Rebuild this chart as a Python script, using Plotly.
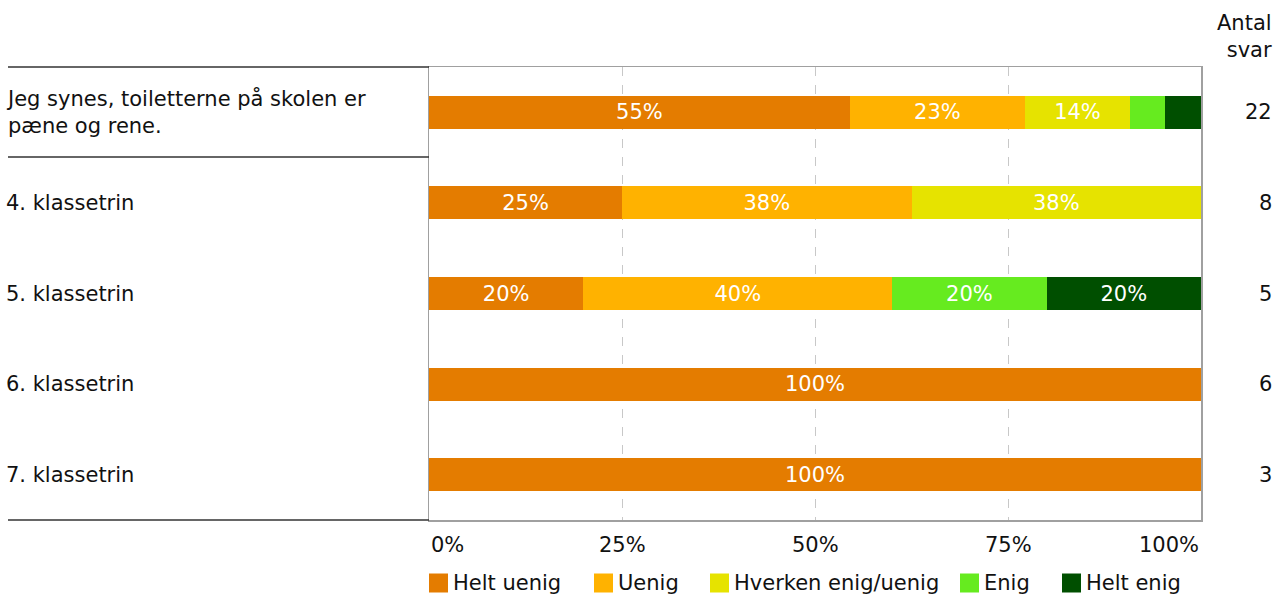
import plotly.graph_objects as go

categories = ["Jeg synes, toiletterne på skolen er<br>pæne og rene.", "4. klassetrin", "5. klassetrin", "6. klassetrin", "7. klassetrin"]
counts = [22, 8, 5, 6, 3]
series_names = ["Helt uenig", "Uenig", "Hverken enig/uenig", "Enig", "Helt enig"]
helt_uenig = [54.5, 25, 20, 100, 100]
uenig = [22.7, 37.5, 40, 0, 0]
hverken = [13.6, 37.5, 0, 0, 0]
enig = [4.6, 0, 20, 0, 0]
helt_enig = [4.6, 0, 20, 0, 0]
tick_vals = [0, 25, 50, 75, 100]
tick_text = ["0%", "25%", "50%", "75%", "100%"]
colors = ["#E47C00", "#FFB200", "#E6E300", "#66EB1F", "#004F00"]

W, H = 1276, 597
X0, X1 = 429, 1201
Y0, Y1 = 67, 520
FONT = "DejaVu Sans"
FS = 21
# legend swatch left edges (px), layout only
LEG_X = [429, 594, 710, 960, 1062]
LEG_Y = 583
SW = 19


def px_x(p):
    return p / W


def px_y(p):
    return 1 - p / H


fig = go.Figure()
for name, vals, col in zip(series_names, [helt_uenig, uenig, hverken, enig, helt_enig], colors):
    txt = [f"{int(v + 0.5)}%" if v >= 8 else "" for v in vals]
    fig.add_trace(go.Bar(
        y=list(range(len(categories))), x=vals, name=name, orientation="h",
        marker=dict(color=col, line=dict(width=0)),
        text=txt, textposition="inside", insidetextanchor="middle",
        textfont=dict(color="white", size=FS, family=FONT),
        hoverinfo="skip", width=0.365, showlegend=False,
    ))

fig.update_layout(
    barmode="stack", width=W, height=H,
    margin=dict(l=0, r=0, t=0, b=0),
    paper_bgcolor="white", plot_bgcolor="white",
    font=dict(family=FONT, size=FS, color="#111111"),
    uniformtext=dict(mode="show", minsize=8),
    xaxis=dict(domain=[px_x(X0), px_x(X1)], range=[0, 100], tickvals=tick_vals[1:4],
               showticklabels=False, showgrid=True, griddash="dash", gridcolor="#c8c8c8",
               gridwidth=1, zeroline=False, showline=True, linecolor="#a0a0a0", linewidth=1.5, mirror=True,
               ticks=""),
    yaxis=dict(domain=[px_y(Y1), px_y(Y0)], range=[len(categories) - 0.5, -0.5],
               showticklabels=False, showgrid=False, zeroline=False,
               showline=True, linecolor="#a0a0a0", linewidth=1.5, mirror=True),
    showlegend=False,
)

anns = []
for i, (c, n) in enumerate(zip(categories, counts)):
    anns.append(dict(xref="paper", yref="y", x=px_x(4), y=i, text=c, showarrow=False,
                     xanchor="left", yanchor="middle", align="left", font=dict(size=FS)))
    anns.append(dict(xref="paper", yref="y", x=px_x(1274), y=i, text=str(n), showarrow=False,
                     xanchor="right", yanchor="middle", font=dict(size=FS)))
anns.append(dict(xref="paper", yref="paper", x=px_x(1274), y=px_y(36), text="Antal<br>svar",
                 showarrow=False, xanchor="right", yanchor="middle", align="right", font=dict(size=FS)))
for v, t in zip(tick_vals, tick_text):
    xa = "left" if v == 0 else ("right" if v == 100 else "center")
    anns.append(dict(xref="x", yref="paper", x=v, y=px_y(545), text=t, showarrow=False,
                     xanchor=xa, yanchor="middle", font=dict(size=FS)))

shapes = []
for yy in [Y0, 157, Y1]:
    shapes.append(dict(type="line", xref="paper", yref="paper", x0=px_x(8), x1=px_x(X0),
                       y0=px_y(yy), y1=px_y(yy), line=dict(color="#333333", width=1.5)))
for name, col, lx in zip(series_names, colors, LEG_X):
    shapes.append(dict(type="rect", xref="paper", yref="paper", x0=px_x(lx), x1=px_x(lx + SW),
                       y0=px_y(LEG_Y - SW / 2), y1=px_y(LEG_Y + SW / 2),
                       fillcolor=col, line=dict(width=0)))
    anns.append(dict(xref="paper", yref="paper", x=px_x(lx + SW + 3), y=px_y(LEG_Y), text=name,
                     showarrow=False, xanchor="left", yanchor="middle", font=dict(size=FS)))

fig.update_layout(shapes=shapes, annotations=anns)

fig.write_html("out.html", config={"displayModeBar": False, "staticPlot": True},
               post_script="document.body.style.margin='0';document.body.style.overflow='hidden';")
